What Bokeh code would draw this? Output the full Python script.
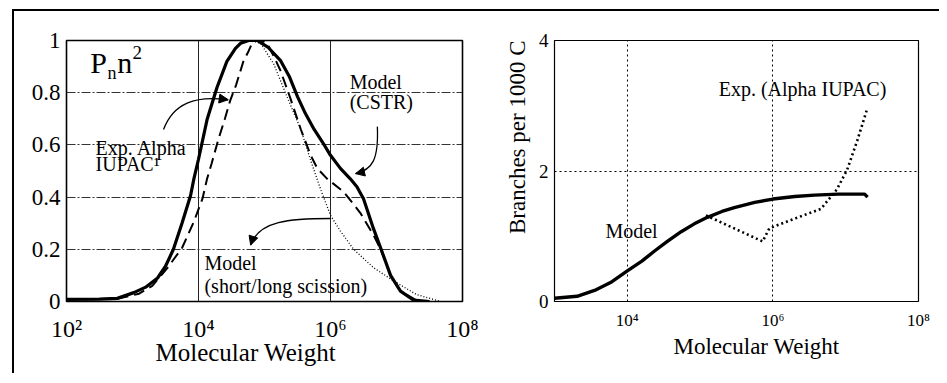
import math
from bokeh.plotting import figure
from bokeh.layouts import row
from bokeh.models import Label, Arrow, NormalHead, FixedTicker, Title
from bokeh.embed import file_html
from bokeh.resources import INLINE

FONT = "Liberation Serif"

# ---------------- Left panel data: Pn n^2 vs log10(Molecular Weight) ----------------
cstr_logM = [2.0, 2.5, 2.77, 3.02, 3.2, 3.38, 3.5, 3.62, 3.75, 3.88, 3.93, 4.0, 4.13, 4.28,
             4.43, 4.56, 4.64, 4.76, 4.89, 5.05, 5.24, 5.38, 5.5, 5.62, 5.75, 5.88, 6.0,
             6.15, 6.3, 6.4, 6.5, 6.65, 6.76, 6.91, 7.06, 7.26, 7.5]
cstr_pn = [0.008, 0.009, 0.012, 0.034, 0.055, 0.09, 0.135, 0.2, 0.3, 0.406, 0.47, 0.545, 0.697,
           0.82, 0.92, 0.97, 0.99, 1.0, 1.0, 0.975, 0.924, 0.86, 0.785, 0.72, 0.66, 0.61, 0.56,
           0.51, 0.47, 0.44, 0.394, 0.28, 0.205, 0.1, 0.04, 0.005, 0.0]

exp_logM = [2.0, 2.5, 2.8, 3.1, 3.3, 3.53, 3.75, 3.93, 4.06, 4.13, 4.2, 4.3, 4.4, 4.48, 4.57,
            4.68, 4.76, 4.83, 4.94, 5.04, 5.14, 5.24, 5.39, 5.55, 5.7, 5.8, 5.95, 6.2, 6.45,
            6.65, 6.76, 6.91, 7.06, 7.3]
exp_pn = [0.008, 0.009, 0.012, 0.03, 0.06, 0.129, 0.205, 0.306, 0.394, 0.47, 0.53, 0.62, 0.7,
          0.77, 0.83, 0.92, 0.96, 1.0, 1.0, 0.99, 0.94, 0.886, 0.78, 0.66, 0.56, 0.51, 0.47,
          0.42, 0.34, 0.255, 0.2, 0.1, 0.04, 0.005]

sci_logM = [2.0, 2.5, 2.77, 3.02, 3.2, 3.38, 3.5, 3.62, 3.75, 3.88, 3.93, 4.0, 4.13, 4.28,
            4.43, 4.56, 4.64, 4.76, 4.94, 5.14, 5.34, 5.55, 5.7, 5.85, 6.0, 6.15, 6.35, 6.65,
            6.95, 7.3, 7.67]
sci_pn = [0.008, 0.009, 0.012, 0.034, 0.055, 0.09, 0.135, 0.2, 0.3, 0.406, 0.47, 0.545, 0.697,
          0.82, 0.92, 0.97, 0.99, 1.0, 0.99, 0.91, 0.785, 0.66, 0.54, 0.43, 0.33, 0.27, 0.2,
          0.13, 0.08, 0.027, 0.0]

left_xticks = [1e2, 1e4, 1e6, 1e8]
left_xlabels = ["10²", "10⁴", "10⁶", "10⁸"]
left_yticks = [0, 0.2, 0.4, 0.6, 0.8, 1.0]
left_ylabels = ["0", "0.2", "0.4", "0.6", "0.8", "1"]

# ---------------- Right panel data: branches per 1000 C ----------------
model_logM = [3.0, 3.31, 3.55, 3.77, 4.0, 4.2, 4.37, 4.55, 4.74, 4.92, 5.1, 5.3, 5.47, 5.75,
              6.0, 6.3, 6.57, 6.9, 7.26, 7.3]
model_br = [0.05, 0.08, 0.17, 0.29, 0.47, 0.62, 0.77, 0.92, 1.07, 1.19, 1.29, 1.38, 1.44, 1.52,
            1.57, 1.61, 1.63, 1.645, 1.645, 1.6]

expb_logM = [5.08, 5.47, 5.86, 5.95, 6.25, 6.66, 6.88, 7.02, 7.16, 7.3]
expb_br = [1.32, 1.12, 0.92, 1.12, 1.25, 1.42, 1.72, 2.02, 2.47, 2.97]

right_xticks = [1e4, 1e6, 1e8]
right_xlabels = ["10⁴", "10⁶", "10⁸"]
right_yticks = [0, 2, 4]
right_ylabels = ["0", "2", "4"]

# annotation arrows (left panel): start, control points, end in (log10 M, value)
arrow_exp = dict(x0=3.47, y0=0.659, cx0=3.62, cy0=0.76, cx1=3.95, cy1=0.79, x1=4.45, y1=0.773)
arrow_cstr = dict(x0=6.71, y0=0.67, cx0=6.73, cy0=0.545, cx1=6.64, cy1=0.505, x1=6.38, y1=0.49)
arrow_sci = dict(x0=6.0, y0=0.318, cx0=5.39, cy0=0.318, cx1=4.91, cy1=0.31, x1=4.79, y1=0.216)


def M(v):
    return [10 ** a for a in v]


def style_common(p):
    p.background_fill_color = "white"
    p.border_fill_color = "white"
    for ax in (p.xaxis, p.yaxis):
        ax.axis_line_color = None
        ax.major_tick_line_color = None
        ax.minor_tick_line_color = None
        ax.major_tick_out = 0
        ax.major_tick_in = 0
        ax.minor_tick_out = 0
        ax.minor_tick_in = 0
        ax.major_label_text_font = FONT
        ax.major_label_text_font_style = "normal"
        ax.major_label_text_color = "black"


def axis_title(p, text, size, place, align, offset, standoff):
    p.add_layout(Title(text=text, text_font=FONT, text_font_size=size, text_font_style="normal",
                       text_color="black", align=align, offset=offset, standoff=standoff), place)


# ================= LEFT =================
p1 = figure(width=466, height=362, x_axis_type="log", x_range=(1e2, 1e8), y_range=(0, 1),
            min_border_left=52, min_border_right=18, min_border_top=29, min_border_bottom=69,
            output_backend="svg", toolbar_location=None)
style_common(p1)
p1.outline_line_color = "black"
p1.outline_line_width = 1.6
p1.xaxis.ticker = FixedTicker(ticks=left_xticks, minor_ticks=[])
p1.xaxis.major_label_overrides = {t: s for t, s in zip(left_xticks, left_xlabels)}
p1.xaxis.major_label_text_font_size = "24px"
p1.xaxis.major_label_standoff = 14
p1.yaxis.ticker = FixedTicker(ticks=left_yticks, minor_ticks=[])
p1.yaxis.major_label_overrides = {t: s for t, s in zip(left_yticks, left_ylabels)}
p1.yaxis.major_label_text_font_size = "23px"
p1.yaxis.major_label_standoff = 6
p1.xgrid.ticker = FixedTicker(ticks=[1e4, 1e6])
p1.xgrid.grid_line_color = "#222222"
p1.xgrid.grid_line_width = 1
p1.ygrid.ticker = FixedTicker(ticks=[0.2, 0.4, 0.6, 0.8])
p1.ygrid.grid_line_color = "#333333"
p1.ygrid.grid_line_width = 1
p1.ygrid.grid_line_dash = "9 2 2 2"
axis_title(p1, "Molecular Weight", "25px", "below", "left", 89, -15)

p1.line(M(sci_logM), sci_pn, line_color="black", line_width=1.3, line_dash="1 2")
p1.line(M(exp_logM), exp_pn, line_color="black", line_width=2, line_dash="11 6")
p1.line(M(cstr_logM), cstr_pn, line_color="black", line_width=3.2)

for a in (arrow_exp, arrow_cstr, arrow_sci):
    p1.bezier(x0=[10 ** a["x0"]], y0=[a["y0"]], x1=[10 ** a["x1"]], y1=[a["y1"]],
              cx0=[10 ** a["cx0"]], cy0=[a["cy0"]], cx1=[10 ** a["cx1"]], cy1=[a["cy1"]],
              line_color="black", line_width=1.3)
    p1.add_layout(Arrow(end=NormalHead(size=9, fill_color="black", line_color="black"),
                        x_start=10 ** a["cx1"], y_start=a["cy1"],
                        x_end=10 ** a["x1"], y_end=a["y1"], line_alpha=0))


def lab(p, x, y, text, size, align="left", baseline="middle", angle=0):
    p.add_layout(Label(x=x, y=y, text=text, text_font=FONT, text_font_size=size,
                       text_align=align, text_baseline=baseline, angle=angle,
                       text_color="black"))


lab(p1, 10 ** 2.36, 0.917, "P", "30px")
lab(p1, 10 ** 2.62, 0.875, "n", "18px")
lab(p1, 10 ** 2.77, 0.917, "n", "30px")
lab(p1, 10 ** 3.0, 0.955, "2", "19px")
lab(p1, 10 ** 2.44, 0.59, "Exp. Alpha", "20px")
lab(p1, 10 ** 2.44, 0.527, "IUPAC¹", "20px")
lab(p1, 10 ** 6.29, 0.84, "Model", "20px")
lab(p1, 10 ** 6.29, 0.765, "(CSTR)", "20px")
lab(p1, 10 ** 4.09, 0.148, "Model", "20px")
lab(p1, 10 ** 4.09, 0.06, "(short/long scission)", "20px")

# ================= RIGHT =================
p2 = figure(width=459, height=362, x_axis_type="log", x_range=(1e3, 1e8), y_range=(0, 4),
            min_border_left=74, min_border_right=21, min_border_top=24, min_border_bottom=72,
            output_backend="svg", toolbar_location=None)
style_common(p2)
p2.outline_line_color = "black"
p2.outline_line_width = 1.2
p2.xaxis.ticker = FixedTicker(ticks=right_xticks, minor_ticks=[])
p2.xaxis.major_label_overrides = {t: s for t, s in zip(right_xticks, right_xlabels)}
p2.xaxis.major_label_text_font_size = "17px"
p2.xaxis.major_label_standoff = 9
p2.yaxis.ticker = FixedTicker(ticks=right_yticks, minor_ticks=[])
p2.yaxis.major_label_overrides = {t: s for t, s in zip(right_yticks, right_ylabels)}
p2.yaxis.major_label_text_font_size = "19px"
p2.yaxis.major_label_standoff = 6
p2.xgrid.ticker = FixedTicker(ticks=[1e4, 1e6])
p2.xgrid.grid_line_color = "black"
p2.xgrid.grid_line_dash = "2 3"
p2.ygrid.ticker = FixedTicker(ticks=[2])
p2.ygrid.grid_line_color = "black"
p2.ygrid.grid_line_dash = "2 3"
axis_title(p2, "Molecular Weight", "23px", "below", "left", 119, -2)
axis_title(p2, "Branches per 1000 C", "23px", "left", "right", 0, 11)

p2.line(M(expb_logM), expb_br, line_color="black", line_width=2.6, line_dash="2 3")
p2.line(M(model_logM), model_br, line_color="black", line_width=3.4)

lab(p2, 10 ** 5.256, 3.25, "Exp. (Alpha IUPAC)", "20px")
lab(p2, 10 ** 3.70, 1.08, "Model", "20px")

layout = row(p1, p2, styles={"border-left": "2px solid black", "border-top": "2px solid black",
                             "margin-left": "12px", "margin-top": "9px",
                             "overflow": "visible", "box-sizing": "content-box"})

open("out.html", "w").write(file_html(layout, INLINE))
